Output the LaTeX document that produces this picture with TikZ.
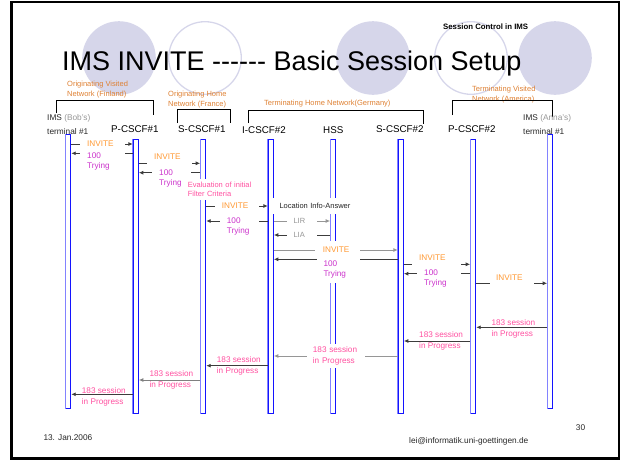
\documentclass[tikz,border=0pt]{standalone}
\usepackage{fontspec}
\setmainfont{Liberation Sans}
\usetikzlibrary{arrows.meta}

\definecolor{lavender}{RGB}{214,214,234}
\definecolor{netorange}{RGB}{222,128,50}
\definecolor{invorange}{RGB}{255,153,51}
\definecolor{trymagenta}{RGB}{204,51,204}
\definecolor{sespink}{RGB}{255,80,160}
\definecolor{lifeblue}{RGB}{20,20,255}
\definecolor{lifelight}{RGB}{130,130,255}
\definecolor{linegrey}{RGB}{60,60,60}
\definecolor{softgrey}{RGB}{150,150,150}

\newcommand\setfs[2]{\fontsize{#1}{#2}\selectfont}
% one signalling message between two lifelines at height #4
\newcommand\sigline[4][]{\draw[msgline,#1] (#2 |- 0,#4) -- (#3 |- 0,#4);}
% six separate hyphens, kept apart so they are not joined into dashes
\newcommand\sixhyphens{-\kern0pt-\kern0pt-\kern0pt-\kern0pt-\kern0pt-}

\begin{document}
\begin{tikzpicture}[x=1pt,y=-1pt,
  deco/.style={fill=lavender,draw=none},
  decoring/.style={draw=lavender,line width=1.3pt},
  netlabel/.style={text=netorange,font=\setfs{7.5}{9.5},inner sep=0pt,align=left},
  entity/.style={font=\setfs{9.8}{11},inner sep=0pt},
  termlabel/.style={font=\setfs{8.3}{10},inner sep=0pt,text=black!85},
  bracket/.style={draw=black,line width=0.9pt},
  life/.style={draw=lifeblue,fill=white,line width=1pt,minimum width=5pt,inner sep=0pt},
  lifeedge/.style={draw=lifelight,line width=1pt},
  msgline/.style={draw=linegrey,line width=1pt,-{Latex[length=4.5pt,width=4pt]}},
  gapbox/.style={fill=white,inner ysep=1pt,align=left,font=\setfs{8.2}{10}},
  seslabel/.style={text=sespink,inner sep=0pt,align=left,font=\setfs{8.2}{10.5}},
  footer/.style={font=\setfs{8.3}{10},inner sep=0pt,text=black!85}
]
\useasboundingbox (0,0) rectangle (621,461);

% slide frame
\draw[line width=2.6pt] (11.3,2) rectangle (619,458.3);

% decorative circles behind the title
\fill[deco] (119,58) circle (36.8);
\draw[decoring] (205,58) circle (36.3);
\fill[deco] (373,58) circle (36.8);
\draw[decoring] (471,58) circle (36.3);
\fill[deco] (555,58) circle (36.8);

% headings
\node[anchor=base west,inner sep=0pt,font=\setfs{27}{30}] (title) at (62,70)
  {IMS INVITE \sixhyphens{} Basic Session Setup};
\node[anchor=base west,inner sep=0pt,font=\bfseries\setfs{7.8}{9}] (topic) at (443,29.8)
  {Session Control in IMS};

% network domains
\node[netlabel,anchor=north west] (netfi) at (67,81.3) {Originating Visited\\Network (Finland)};
\node[netlabel,anchor=north west] (netfr) at (168,91.3) {Originating Home\\Network (France)};
\node[netlabel,anchor=base west] (netde) at (264,105.7) {Terminating Home Network(Germany)};
\node[netlabel,anchor=north west] (netus) at (472,86.3) {Terminating Visited\\Network (America)};

\draw[bracket] (56,113) |- (153,100) -- (153,115);
\draw[bracket] (177,123) |- (230,109) -- (230,123);
\draw[bracket] (248,123) |- (423,110) -- (423,124);
\draw[bracket] (452,115) |- (552,100) -- (552,117);

% entities
\node[termlabel,anchor=base west] (bobims) at (47,120) {IMS \textcolor{softgrey}{(Bob's)}};
\node[termlabel,anchor=base west] (bobterm) at (47,134) {terminal \#1};
\node[entity,anchor=base west] (p1name) at (111,132.6) {P-CSCF\#1};
\node[entity,anchor=base west] (s1name) at (178,132.6) {S-CSCF\#1};
\node[entity,anchor=base west] (i2name) at (242,133.8) {I-CSCF\#2};
\node[entity,anchor=base west] (hssname) at (323,133.8) {HSS};
\node[entity,anchor=base west] (s2name) at (376,132.8) {S-CSCF\#2};
\node[entity,anchor=base west] (p2name) at (448,132.8) {P-CSCF\#2};
\node[termlabel,anchor=base west] (annaims) at (523,120) {IMS \textcolor{softgrey}{(Anna's)}};
\node[termlabel,anchor=base west] (annaterm) at (523,134.5) {terminal \#1};

% lifelines
\node[life,minimum height=274pt] (bob) at (68.2,271) {};
\node[life,minimum height=274pt] (p1) at (135.8,276) {};
\node[life,minimum height=274pt] (s1) at (203.2,276) {};
\node[life,minimum height=274pt] (i2) at (270.8,276) {};
\node[life,minimum height=274pt] (hss) at (333.2,276) {};
\node[life,minimum height=274pt] (s2) at (400.8,276) {};
\node[life,minimum height=274pt] (p2) at (473.2,276) {};
\node[life,minimum height=274pt] (anna) at (550.2,271) {};
\foreach \n in {bob,p1,s1,i2,hss,s2,p2,anna}
  \draw[lifeedge] (\n.north west) -- (\n.south west);

% messages
\sigline{bob.east}{p1.west}{144}
\sigline{p1.west}{bob.east}{153.3}
\sigline{p1.east}{s1.west}{163.3}
\sigline{s1.west}{p1.east}{172.7}
\sigline{s1.east}{i2.west}{206}
\sigline{i2.west}{s1.east}{221}
\sigline[draw=softgrey]{i2.east}{hss.west}{221}
\sigline{hss.west}{i2.east}{235}
\sigline[draw=softgrey]{i2.east}{s2.west}{250}
\sigline{s2.west}{i2.east}{259.3}
\sigline{s2.east}{p2.west}{264.3}
\sigline{p2.west}{s2.east}{273.7}
\sigline{p2.east}{anna.west}{283.3}
\sigline{anna.west}{p2.east}{327.3}
\sigline{p2.west}{s2.east}{341}
\sigline[draw=softgrey]{s2.west}{i2.east}{356}
\sigline{i2.west}{s1.east}{365.7}
\sigline[draw=gray]{s1.west}{p1.east}{380}
\sigline{p1.west}{bob.east}{394.3}

% message labels
\node[gapbox,text=invorange,anchor=west,inner xsep=7pt,text width=31pt] (inv1) at (80,144) {INVITE};
\node[gapbox,text=trymagenta,anchor=north west,inner xsep=7pt,text width=31pt] (try1) at (80,151.1) {100\\Trying};
\node[gapbox,text=invorange,anchor=west,inner xsep=7.3pt,inner ysep=5pt,text width=30.4pt] (inv2) at (146.7,156.7) {INVITE};
\node[gapbox,text=trymagenta,anchor=north west,inner xsep=7.3pt,text width=24.7pt] (try2) at (151.7,168.4) {100\\Trying};
\node[gapbox,text=sespink,anchor=north west,inner xsep=6.7pt,inner ysep=3.3pt,text width=64pt,font=\setfs{7.5}{9}] (ifc) at (181,179)
  {Evaluation of initial\\Filter Criteria};
\node[gapbox,text=invorange,anchor=west,inner xsep=6.7pt,text width=30.6pt] (inv3) at (215,206) {INVITE};
\node[gapbox,text=trymagenta,anchor=north west,inner xsep=6.7pt,text width=25.6pt] (try3) at (220,216.1) {100\\Trying};
\node[gapbox,text=black!85,anchor=west,inner xsep=6.6pt,inner ysep=5.3pt,text width=73pt,font=\setfs{7.5}{9}] (lia) at (272.7,205.7)
  {Location Info-Answer};
\node[gapbox,text=softgrey,anchor=west,inner xsep=6.6pt,inner ysep=1.5pt,text width=16.8pt,font=\setfs{7.5}{9}] (lirlabel) at (286.7,221) {LIR};
\node[gapbox,text=softgrey,anchor=west,inner xsep=6.6pt,inner ysep=1.5pt,text width=16.8pt,font=\setfs{7.5}{9}] (lialabel) at (286.7,235) {LIA};
\node[gapbox,text=invorange,anchor=west,inner xsep=7.7pt,inner ysep=5pt,text width=29.6pt] (inv4) at (315,249.3) {INVITE};
\node[gapbox,text=trymagenta,anchor=north west,inner xsep=6.6pt,inner ysep=5pt,text width=30.1pt] (try4) at (316.7,255.4) {100\\Trying};
\node[gapbox,text=invorange,anchor=west,inner xsep=7.3pt,inner ysep=5pt,text width=34.7pt] (inv5) at (411.7,257.3) {INVITE};
\node[gapbox,text=trymagenta,anchor=north west,inner xsep=7.3pt,text width=29.7pt] (try5) at (416.7,268.8) {100\\Trying};
\node[gapbox,text=invorange,anchor=west,inner xsep=6pt,inner ysep=4pt,text width=32pt] (inv6) at (490,277.7) {INVITE};

\node[seslabel,anchor=north west] (ses1) at (491.3,319.4) {183 session\\in Progress};
\node[seslabel,anchor=north west] (ses2) at (419,331.7) {183 session\\in Progress};
\node[gapbox,text=sespink,anchor=north west,inner xsep=6pt,inner ysep=3pt,text width=46.3pt,font=\setfs{8.2}{10.5}] (ses3) at (306.7,343.7)
  {183 session\\in Progress};
\node[seslabel,anchor=north west] (ses4) at (216.7,356.7) {183 session\\in Progress};
\node[seslabel,anchor=north west] (ses5) at (149.3,370.7) {183 session\\in Progress};
\node[seslabel,anchor=north west] (ses6) at (81.7,387.7) {183 session\\in Progress};

% footer
\node[footer,anchor=base west] (date) at (43.3,440) {13. Jan.2006};
\node[footer,anchor=base west] (mail) at (409,443.5) {lei@informatik.uni-goettingen.de};
\node[footer,anchor=base west] (page) at (575.7,430.7) {30};
\end{tikzpicture}
\end{document}
